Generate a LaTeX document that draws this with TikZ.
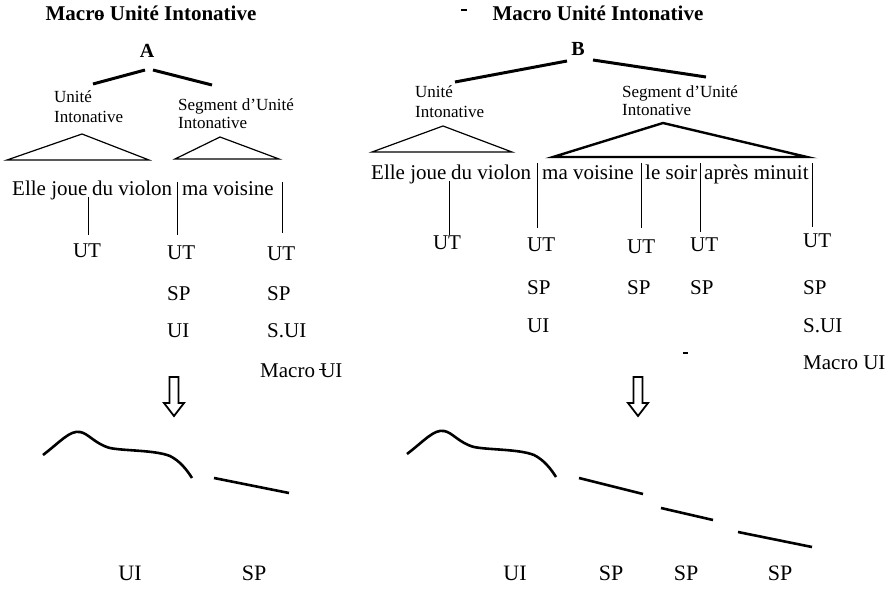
\documentclass[tikz,border=0pt]{standalone}
\usepackage{fontspec}
\setmainfont{Liberation Serif}
\begin{document}
\begin{tikzpicture}[x=1pt,y=-1pt,
  txt/.style={inner sep=0pt, anchor=base west},
  sent/.style={txt, font=\fontsize{21}{25}\selectfont},
  lab/.style={txt, font=\fontsize{21}{25}\selectfont},
  small/.style={txt, font=\fontsize{17}{20}\selectfont},
  ttl/.style={inner sep=0pt, anchor=base, font=\bfseries\fontsize{21}{25}\selectfont},
  root/.style={inner sep=0pt, anchor=base, font=\bfseries\fontsize{20}{24}\selectfont},
  bottom/.style={inner sep=0pt, anchor=base, font=\fontsize{22}{26}\selectfont},
  branch/.style={line width=3pt},
  tri/.style={line width=1.2pt, line join=miter},
  trithick/.style={line width=2.4pt, line join=miter},
  bar/.style={line width=0.9pt},
  contourline/.style={line width=2.6pt},
  bigarrow/.style={line width=1.8pt, line join=miter},
  speck/.style={line width=1.5pt},
  contour/.pic={
    \draw[contourline] (0,0) .. controls (17,-13) and (27,-25) .. (37,-23)
      .. controls (45,-22) and (52,-11) .. (67,-7)
      .. controls (82,-4) and (112,-5) .. (127,1)
      .. controls (137,6) and (144,15) .. (149,23);
  },
  downarrow/.pic={
    \draw[bigarrow] (-4.5,0) -- (4.5,0) -- (4.5,26) -- (10,26) -- (0,39)
      -- (-10,26) -- (-4.5,26) -- cycle;
  }
]
\useasboundingbox (0,0) rectangle (890,589);
\fill[white] (0,0) rectangle (890,589);

% ---------------- titles ----------------
\node[ttl] (titleA) at (151,20) {Macro Unité Intonative};
\node[ttl] (titleB) at (598,20) {Macro Unité Intonative};
\draw[speck] (461,10) -- (467,10);
\draw[line width=1pt] (95,15) -- (104,15);

% ---------------- tree A ----------------
\node[root] (rootA) at (147,57) {A};
\node[small] (uiA1) at (54,102) {Unité};
\node[small] (uiA2) at (54,122) {Intonative};
\node[small] (suiA1) at (178,110) {Segment d’Unité};
\node[small] (suiA2) at (178,128) {Intonative};
\coordinate (rootA-l) at (145,70);
\coordinate (rootA-r) at (153,70);
\coordinate (uiA-top) at (93,84);
\coordinate (suiA-top) at (212,85);
\draw[branch] (rootA-l) -- (uiA-top);
\draw[branch] (rootA-r) -- (suiA-top);
\draw[tri] (7,160) -- (82,134) -- (149,160) -- cycle;
\draw[tri] (175,159) -- (220,137) -- (279,159) -- cycle;

% sentence A
\node[sent] (a1) at (12,195) {Elle joue};
\node[sent] (a2) at (92,195) {du violon};
\node[sent] (a3) at (182,195) {ma voisine};

% labels A
\node[lab, anchor=base] (aut1) at (87,257) {UT};
\node[lab] (aut2) at (167,259) {UT};
\node[lab] (aut3) at (267,260) {UT};
\node[lab] (asp2) at (167,300) {SP};
\node[lab] (asp3) at (267,300) {SP};
\node[lab] (aui2) at (167,337) {UI};
\node[lab] (asui3) at (267,337) {S.UI};
\node[lab] (amac3) at (260,377) {Macro UI};
\draw[line width=1pt] (319,369) -- (326,369);

% boundary bars A
\coordinate (ab1) at (88,197);  \coordinate (ab1e) at (88,235);
\coordinate (ab2) at (177,182); \coordinate (ab2e) at (177,235);
\coordinate (ab3) at (282,182); \coordinate (ab3e) at (282,233);
\draw[bar] (ab1) -- (ab1e);
\draw[bar] (ab2) -- (ab2e);
\draw[bar] (ab3) -- (ab3e);

% ---------------- tree B ----------------
\node[root] (rootB) at (578,55) {B};
\node[small] (uiB1) at (415,97) {Unité};
\node[small] (uiB2) at (415,117) {Intonative};
\node[small] (suiB1) at (622,97) {Segment d’Unité};
\node[small] (suiB2) at (622,115) {Intonative};
\coordinate (rootB-l) at (567,61);
\coordinate (rootB-r) at (593,60);
\coordinate (uiB-top) at (455,82);
\coordinate (suiB-top) at (706,77);
\draw[branch] (rootB-l) -- (uiB-top);
\draw[branch] (rootB-r) -- (suiB-top);
\draw[tri] (372,152) -- (443,126) -- (512,152) -- cycle;
\draw[trithick] (553,157) -- (663,123) -- (807,157) -- cycle;

% sentence B
\node[sent] (b1) at (371,179) {Elle joue};
\node[sent] (b2) at (451,179) {du violon};
\node[sent] (b3) at (542,179) {ma voisine};
\node[sent] (b4) at (645,179) {le soir};
\node[sent] (b5) at (704,179) {après minuit};

% labels B
\node[lab, anchor=base] (but1) at (447,249) {UT};
\node[lab] (but2) at (527,251) {UT};
\node[lab] (but3) at (627,253) {UT};
\node[lab] (but4) at (690,251) {UT};
\node[lab] (but5) at (803,247) {UT};
\node[lab] (bsp2) at (527,294) {SP};
\node[lab] (bsp3) at (627,294) {SP};
\node[lab] (bsp4) at (690,294) {SP};
\node[lab] (bsp5) at (803,294) {SP};
\node[lab] (bui2) at (527,332) {UI};
\node[lab] (bsui5) at (803,332) {S.UI};
\node[lab] (bmac5) at (803,369) {Macro UI};
\draw[speck] (683,353) -- (688,353);

% boundary bars B
\coordinate (bb1) at (449,181); \coordinate (bb1e) at (449,235);
\coordinate (bb2) at (537,163); \coordinate (bb2e) at (537,228);
\coordinate (bb3) at (641,163); \coordinate (bb3e) at (641,228);
\coordinate (bb4) at (700,163); \coordinate (bb4e) at (700,232);
\coordinate (bb5) at (812,163); \coordinate (bb5e) at (812,227);
\draw[bar] (bb1) -- (bb1e);
\draw[bar] (bb2) -- (bb2e);
\draw[bar] (bb3) -- (bb3e);
\draw[bar] (bb4) -- (bb4e);
\draw[bar] (bb5) -- (bb5e);

% ---------------- arrows ----------------
\pic at (174,377) {downarrow};
\pic at (638,377) {downarrow};

% ---------------- contours A ----------------
\pic at (43,455) {contour};
\draw[contourline] (214,478) -- (289,493);
\node[bottom] (lUIa) at (130,580) {UI};
\node[bottom] (lSPa) at (254,580) {SP};

% ---------------- contours B ----------------
\pic at (407,454) {contour};
\draw[contourline] (579,478) -- (643,494);
\draw[contourline] (661,508) -- (713,520);
\draw[contourline] (738,532) -- (812,547);
\node[bottom] (lUIb) at (515,580) {UI};
\node[bottom] (lSPb1) at (611,580) {SP};
\node[bottom] (lSPb2) at (686,580) {SP};
\node[bottom] (lSPb3) at (780,580) {SP};
\end{tikzpicture}
\end{document}
